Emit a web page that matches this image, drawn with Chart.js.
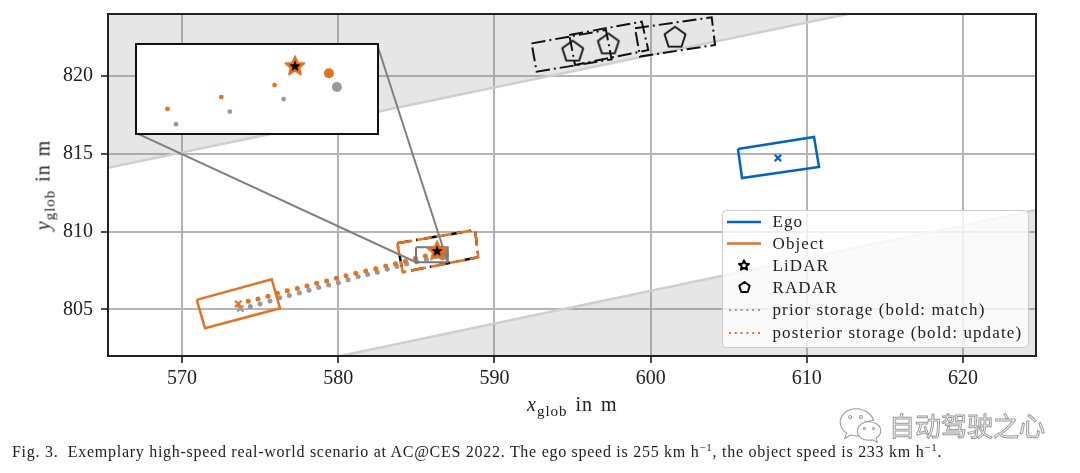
<!DOCTYPE html>
<html>
<head>
<meta charset="utf-8">
<script src="https://cdn.jsdelivr.net/npm/chart.js@4"></script>
<style>
html, body { margin: 0; padding: 0; background: #fff; }
#page { position: relative; width: 1080px; height: 473px; overflow: hidden; font-family: "Liberation Serif", serif; color: #222; }
#main { position: absolute; left: 0; top: 0; }
#insetBox { position: absolute; left: 135px; top: 43px; width: 240px; height: 88px; box-sizing: content-box; border: 2px solid #111; background: #fff; }
#inset { display: block; }
.axisTitle { position: absolute; font-size: 20px; white-space: nowrap; letter-spacing: 1px; word-spacing: 2px; }
.axisTitle sub { font-size: 15px; line-height: 0; }
#xTitle { left: 527px; top: 393px; }
#yTitle { left: 43px; top: 185px; transform: translate(-50%, -50%) rotate(-90deg); }
#caption { position: absolute; left: 12px; top: 443px; font-size: 16px; white-space: pre; letter-spacing: 0.72px; }
#caption sup { font-size: 11px; line-height: 0; }
#mark { position: absolute; left: 889px; top: 406px; font-family: "Noto Sans CJK SC"; font-size: 26px; white-space: nowrap; color: #fff; -webkit-text-stroke: 1px #9a9a9a; }
#markIcon { position: absolute; left: 838px; top: 407px; }
</style>
</head>
<body>
<div id="page">
  <canvas id="main" width="1080" height="473"></canvas>
  <div id="insetBox"><canvas id="inset" width="240" height="88"></canvas></div>
  <div class="axisTitle" id="xTitle"><i>x</i><sub>glob</sub> in m</div>
  <div class="axisTitle" id="yTitle"><i>y</i><sub>glob</sub> in m</div>
  <svg id="markIcon" width="44" height="36" viewBox="0 0 48 40" fill="#fff" stroke="#9a9a9a" stroke-width="1.2">
    <path d="M20 2C9 2 2 9 2 17c0 5 3 9 7 12l-2 6 7-4c2 .5 4 1 6 1 1 0 2 0 3-.2C22 24 30 15 39 15 37 8 29 2 20 2z"/>
    <path d="M34 16c-7 0-13 5-13 11s6 10 13 10c2 0 3 0 4-.6l5 3-1-5c3-2 5-5 5-8 0-6-6-10-13-10z"/>
    <circle cx="13" cy="11" r="1.6"/><circle cx="25" cy="11" r="1.6"/>
    <circle cx="29" cy="24" r="1.2"/><circle cx="39" cy="24" r="1.2"/>
  </svg>
  <div id="mark">自动驾驶之心</div>
  <div id="caption">Fig. 3.  Exemplary high-speed real-world scenario at AC@CES 2022. The ego speed is 255 km h<sup>−1</sup>, the object speed is 233 km h<sup>−1</sup>.</div>
</div>

<script>
// tick labels
var xTicks = [570, 580, 590, 600, 610, 620];
var yTicks = [805, 810, 815, 820];

// road edges
var roadUpper = [[565.26, 814.1], [612.63, 824]];
var roadLower = [[580.11, 802], [624.67, 811.4]];

// boxes
var egoBox = [[605.59, 815.32], [610.46, 816.09], [610.78, 814.16], [605.85, 813.45]];
var objectBox = [[570.94, 805.61], [575.74, 806.94], [576.27, 805.07], [571.47, 803.79]];
var lidarBox = [[583.78, 809.25], [588.76, 810.11], [588.97, 808.35], [584.13, 807.39]];
var radarBoxA = [[592.38, 822.11], [597.14, 822.97], [597.50, 821.08], [592.70, 820.29]];
var radarBoxB = [[594.79, 822.65], [599.43, 823.51], [599.85, 821.68], [595.16, 820.72]];
var radarBoxC = [[599.00, 823.08], [603.91, 823.79], [604.12, 822.01], [599.32, 821.26]];

// detections
var egoCenter = [[608.15, 814.74]];
var objectCenter = [[573.60, 805.35]];
var priorCenter = [[573.73, 805.05]];
var lidarPoint = [[586.33, 808.81]];
var radarPoints = [[595.01, 821.64], [597.29, 822.11], [601.56, 822.54]];

// storage
var posterior = [[574.24, 805.52], [574.86, 805.67], [575.50, 805.84], [576.10, 806.04], [576.74, 806.19],
  [577.38, 806.34], [578.00, 806.51], [578.62, 806.68], [579.26, 806.83], [579.88, 807.00], [580.50, 807.17],
  [581.12, 807.32], [581.76, 807.47], [582.40, 807.62], [583.04, 807.79], [583.66, 807.94], [584.30, 808.09],
  [584.94, 808.29], [585.58, 808.44]];
var prior = [[574.37, 805.18], [574.99, 805.35], [575.63, 805.54], [576.25, 805.74], [576.87, 805.89],
  [577.51, 806.06], [578.13, 806.23], [578.75, 806.40], [579.39, 806.57], [580.01, 806.72], [580.63, 806.91],
  [581.27, 807.09], [581.88, 807.24], [582.50, 807.39], [583.14, 807.58], [583.76, 807.75], [584.38, 807.92],
  [585.02, 808.07], [585.64, 808.22], [586.26, 808.39]];
var posteriorBold = [[586.63, 808.71]];
var priorBold = [[586.70, 808.54]];

// zoomed view
var zoomRect = [[584.98, 809.0], [587.01, 809.0], [587.01, 808.03], [584.98, 808.03]];
var connectorLeft = [[567.05, 816.35], [584.98, 808.03]];
var connectorRight = [[582.48, 822.07], [587.01, 808.03]];
var insetPosterior = [[585.205, 808.267], [585.68, 808.415], [586.15, 808.564]];
var insetPrior = [[585.28, 808.077], [585.755, 808.234], [586.23, 808.39]];

var legendLabels = ["Ego", "Object", "LiDAR", "RADAR", "prior storage (bold: match)", "posterior storage (bold: update)"];

var BLUE = "#0065BD", ORANGE = "#E37222", GRAY = "#999999", FONT = '"Liberation Serif", serif';

function pts(list) { return list.map(function (p) { return { x: p[0], y: p[1] }; }); }
function closed(list) { return pts(list.concat([list[0]])); }

function polyPath(ctx, cx, cy, radii, n) {
    ctx.beginPath();
    for (var i = 0; i < n; i++) {
        var a = -Math.PI / 2 + i * 2 * Math.PI / n;
        var r = radii[i % radii.length];
        ctx.lineTo(cx + r * Math.cos(a), cy + r * Math.sin(a));
    }
    ctx.closePath();
}

function markerImage(size, draw) {
    var c = document.createElement("canvas");
    c.width = c.height = size;
    var ctx = c.getContext("2d");
    ctx.lineJoin = "round";
    draw(ctx, size / 2);
    return c;
}

var starImage = markerImage(26, function (ctx, m) {
    polyPath(ctx, m, m + 1, [10, 4.4], 10);
    ctx.fillStyle = ORANGE; ctx.strokeStyle = ORANGE; ctx.lineWidth = 2;
    ctx.fill(); ctx.stroke();
    polyPath(ctx, m, m + 1, [6, 2.5], 10);
    ctx.fillStyle = "#000"; ctx.fill();
});
var pentagonImage = markerImage(30, function (ctx, m) {
    polyPath(ctx, m, m + 1, [11], 5);
    ctx.strokeStyle = "#111"; ctx.lineWidth = 1.8; ctx.stroke();
});

function boxSet(list, color, width, dash) {
    return { data: closed(list), showLine: true, borderColor: color, borderWidth: width, borderDash: dash || [], pointRadius: 0, tension: 0 };
}
function dotSet(list, color, radius) {
    return { data: pts(list), showLine: false, pointRadius: radius, pointBackgroundColor: color, pointBorderWidth: 0 };
}
function crossSet(list, color) {
    return { data: pts(list), showLine: false, pointStyle: "crossRot", pointRadius: 4.5, pointBorderColor: color, pointBorderWidth: 2.2 };
}
function imageSet(list, image) {
    return { data: pts(list), showLine: false, pointStyle: image };
}
function roadSet(list, fill) {
    return { data: pts(list), showLine: true, borderColor: "#cfcfcf", borderWidth: 2.5, pointRadius: 0, fill: fill, backgroundColor: "rgba(128,128,128,0.2)" };
}

// frame and legend are drawn here, Chart.js has no inside-axes legend
var frameAndLegend = {
    id: "frameAndLegend",
    afterDraw: function (chart) {
        var ctx = chart.ctx, a = chart.chartArea;
        ctx.save();
        ctx.strokeStyle = "#222";
        ctx.lineWidth = 2;
        ctx.strokeRect(a.left, a.top, a.right - a.left, a.bottom - a.top);

        ctx.beginPath();
        ctx.roundRect(722.5, 210.5, 306, 137, 4);
        ctx.fillStyle = "rgba(255,255,255,0.8)";
        ctx.fill();
        ctx.strokeStyle = "#cccccc";
        ctx.lineWidth = 1;
        ctx.stroke();

        var rows = [222, 243.5, 265.5, 287.5, 310, 333];
        ctx.font = "17px " + FONT;
        ctx.letterSpacing = "1.12px";
        ctx.textBaseline = "middle";
        ctx.fillStyle = "#222";
        legendLabels.forEach(function (label, i) {
            ctx.fillText(label, 772.5, rows[i] + 1);
        });
        ctx.letterSpacing = "0px";

        ctx.lineWidth = 2.5;
        [BLUE, ORANGE].forEach(function (color, i) {
            ctx.strokeStyle = color;
            ctx.beginPath(); ctx.moveTo(727, rows[i]); ctx.lineTo(761, rows[i]); ctx.stroke();
        });
        ctx.strokeStyle = "#000";
        ctx.lineWidth = 2;
        ctx.lineJoin = "round";
        polyPath(ctx, 744, rows[2], [5.2, 2.4], 10); ctx.stroke();
        polyPath(ctx, 744.5, rows[3], [5.5], 5); ctx.stroke();

        ctx.lineWidth = 2;
        ctx.setLineDash([2, 3.8]);
        [GRAY, ORANGE].forEach(function (color, i) {
            ctx.strokeStyle = color;
            ctx.beginPath(); ctx.moveTo(729, rows[4 + i]); ctx.lineTo(760, rows[4 + i]); ctx.stroke();
        });
        ctx.restore();
    }
};

new Chart(document.getElementById("main"), {
    type: "scatter",
    data: {
        // first dataset ends up on top
        datasets: [
            imageSet(lidarPoint, starImage),
            boxSet(zoomRect, "#777777", 2),
            { data: pts(connectorRight), showLine: true, borderColor: "#808080", borderWidth: 2, pointRadius: 0 },
            { data: pts(connectorLeft), showLine: true, borderColor: "#808080", borderWidth: 2, pointRadius: 0 },
            dotSet(posteriorBold, ORANGE, 6),
            dotSet(priorBold, GRAY, 6),
            boxSet(lidarBox, ORANGE, 2.5, [15, 5]),
            boxSet(lidarBox, "#000000", 2.5, [13, 6, 2, 6]),
            crossSet(egoCenter, BLUE),
            boxSet(egoBox, BLUE, 2.5),
            crossSet(objectCenter, ORANGE),
            crossSet(priorCenter, GRAY),
            boxSet(objectBox, ORANGE, 2.5),
            dotSet(posterior, ORANGE, 2.5),
            dotSet(prior, GRAY, 2.5),
            imageSet(radarPoints, pentagonImage),
            boxSet(radarBoxA, "#111111", 2, [14, 4, 2, 4]),
            boxSet(radarBoxB, "#111111", 2, [14, 4, 2, 4]),
            boxSet(radarBoxC, "#111111", 2, [14, 4, 2, 4]),
            roadSet(roadUpper, "end"),
            roadSet(roadLower, "start")
        ]
    },
    options: {
        responsive: false,
        animation: false,
        events: [],
        layout: { padding: { left: 0, right: 44, top: 14, bottom: 0 } },
        plugins: { legend: { display: false }, tooltip: { enabled: false } },
        scales: {
            x: {
                type: "linear",
                min: 565.26,
                max: 624.67,
                afterBuildTicks: function (s) { s.ticks = xTicks.map(function (v) { return { value: v }; }); },
                afterFit: function (s) { s.height = 117; s.paddingLeft = 0; s.paddingRight = 0; },
                ticks: { font: { family: FONT, size: 20 }, color: "#222", padding: 4, maxRotation: 0 },
                grid: { color: "#b4b4b4", lineWidth: 2, tickColor: "#111", tickLength: 7, tickWidth: 1.5 },
                border: { display: false }
            },
            y: {
                type: "linear",
                min: 802,
                max: 824,
                afterBuildTicks: function (s) { s.ticks = yTicks.map(function (v) { return { value: v }; }); },
                afterFit: function (s) { s.width = 108; s.paddingTop = 0; s.paddingBottom = 0; },
                ticks: { font: { family: FONT, size: 20 }, color: "#222", padding: 8 },
                grid: { color: "#b4b4b4", lineWidth: 2, tickColor: "#111", tickLength: 7, tickWidth: 1.5 },
                border: { display: false }
            }
        }
    },
    plugins: [frameAndLegend]
});

new Chart(document.getElementById("inset"), {
    type: "scatter",
    data: {
        datasets: [
            imageSet(lidarPoint, starImage),
            dotSet(posteriorBold, ORANGE, 5),
            dotSet(priorBold, GRAY, 5),
            dotSet(insetPosterior, ORANGE, 2.4),
            dotSet(insetPrior, GRAY, 2.4)
        ]
    },
    options: {
        responsive: false,
        animation: false,
        events: [],
        layout: { padding: 0 },
        plugins: { legend: { display: false }, tooltip: { enabled: false } },
        scales: {
            x: { type: "linear", display: false, min: 584.98, max: 587.01 },
            y: { type: "linear", display: false, min: 808.03, max: 809.0 }
        }
    }
});
</script>
</body>
</html>
